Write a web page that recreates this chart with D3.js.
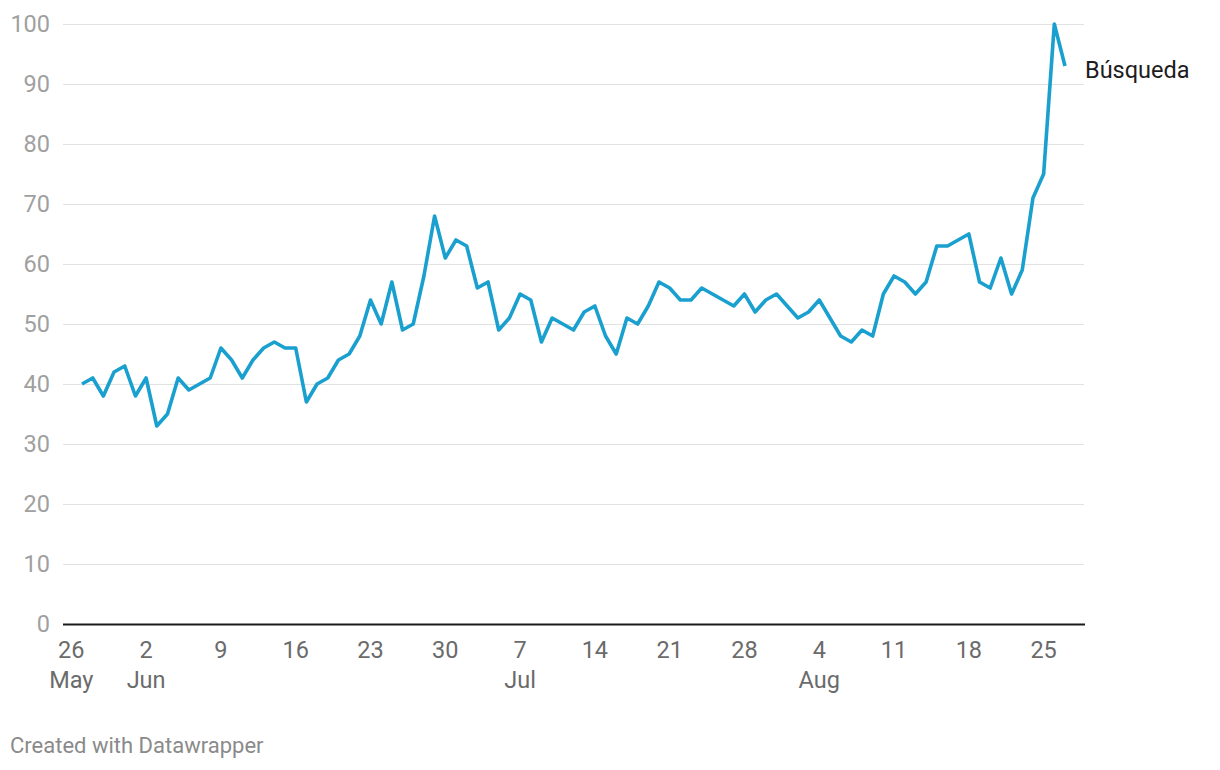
<!DOCTYPE html>
<html>
<head>
<meta charset="utf-8">
<script src="https://cdn.jsdelivr.net/npm/d3@7"></script>
<style>
  html, body { margin: 0; padding: 0; background: #fff; }
  svg { display: block; font-family: Roboto, "Noto Sans", sans-serif; }
</style>
</head>
<body>
<svg id="chart" width="1220" height="770"></svg>
<script>
// ---- Data ----
const seriesName = "Búsqueda";
const startDate = "2019-05-27"; // first daily observation
const values = [
  40, 41, 38, 42, 43, 38, 41, 33, 35, 41,
  39, 40, 41, 46, 44, 41, 44, 46, 47, 46,
  46, 37, 40, 41, 44, 45, 48, 54, 50, 57,
  49, 50, 58, 68, 61, 64, 63, 56, 57, 49,
  51, 55, 54, 47, 51, 50, 49, 52, 53, 48,
  45, 51, 50, 53, 57, 56, 54, 54, 56, 55,
  54, 53, 55, 52, 54, 55, 53, 51, 52, 54,
  51, 48, 47, 49, 48, 55, 58, 57, 55, 57,
  63, 63, 64, 65, 57, 56, 61, 55, 59, 71,
  75, 100, 93
];
const tickDates = ["2019-05-26","2019-06-02","2019-06-09","2019-06-16","2019-06-23","2019-06-30",
  "2019-07-07","2019-07-14","2019-07-21","2019-07-28","2019-08-04","2019-08-11","2019-08-18","2019-08-25"];
const tickLabels = ["26","2","9","16","23","30","7","14","21","28","4","11","18","25"];
const monthLabels = ["May","Jun","","","","","Jul","","","","Aug","","",""];
const yTicks = [0,10,20,30,40,50,60,70,80,90,100];

// ---- Build ----
const parse = d3.utcParse("%Y-%m-%d");
const start = parse(startDate);
const data = values.map((v, i) => ({ date: d3.utcDay.offset(start, i), value: v }));

const svg = d3.select("#chart");
const x = d3.scaleUtc()
  .domain([data[0].date, data[data.length - 1].date])
  .range([82, 1065]);
const y = d3.scaleLinear().domain([0, 100]).range([624, 24]);

const gridX0 = 63, gridX1 = 1084;
const labelSize = 23.5;

// gridlines
svg.append("g").selectAll("line")
  .data(yTicks.filter(d => d > 0))
  .join("line")
  .attr("x1", gridX0).attr("x2", gridX1)
  .attr("y1", d => y(d) + 0.5).attr("y2", d => y(d) + 0.5)
  .attr("stroke", "#e2e2e2").attr("stroke-width", 1);

// y labels
svg.append("g").selectAll("text")
  .data(yTicks)
  .join("text")
  .attr("x", 50).attr("y", d => y(d))
  .attr("dy", "0.36em")
  .attr("text-anchor", "end")
  .attr("font-size", labelSize)
  .attr("fill", "#a0a0a0")
  .text(d => d);

// baseline
svg.append("line")
  .attr("x1", gridX0).attr("x2", gridX1 + 1)
  .attr("y1", y(0) + 0.5).attr("y2", y(0) + 0.5)
  .attr("stroke", "#1a1a1a").attr("stroke-width", 2);

// x axis labels
const xg = svg.append("g");
tickDates.forEach((t, i) => {
  const px = x(parse(t));
  xg.append("text")
    .attr("x", px).attr("y", 658)
    .attr("text-anchor", "middle")
    .attr("font-size", labelSize)
    .attr("fill", "#6b6b6b")
    .text(tickLabels[i]);
  if (monthLabels[i]) {
    xg.append("text")
      .attr("x", px).attr("y", 688)
      .attr("text-anchor", "middle")
      .attr("font-size", labelSize)
      .attr("fill", "#6b6b6b")
      .text(monthLabels[i]);
  }
});

// line
const line = d3.line().x(d => x(d.date)).y(d => y(d.value)).curve(d3.curveLinear);
svg.append("path")
  .datum(data)
  .attr("d", line)
  .attr("fill", "none")
  .attr("stroke", "#1aa0cf")
  .attr("stroke-width", 3.6)
  .attr("stroke-linejoin", "round")
  .attr("stroke-linecap", "butt");

// series label
svg.append("text")
  .attr("x", 1085).attr("y", 78)
  .attr("font-size", 23.5)
  .attr("fill", "#1d1d1d")
  .text(seriesName);

// footer
svg.append("text")
  .attr("x", 10).attr("y", 753)
  .attr("font-size", 22)
  .attr("fill", "#8a8a8a")
  .text("Created with Datawrapper");
</script>
</body>
</html>
